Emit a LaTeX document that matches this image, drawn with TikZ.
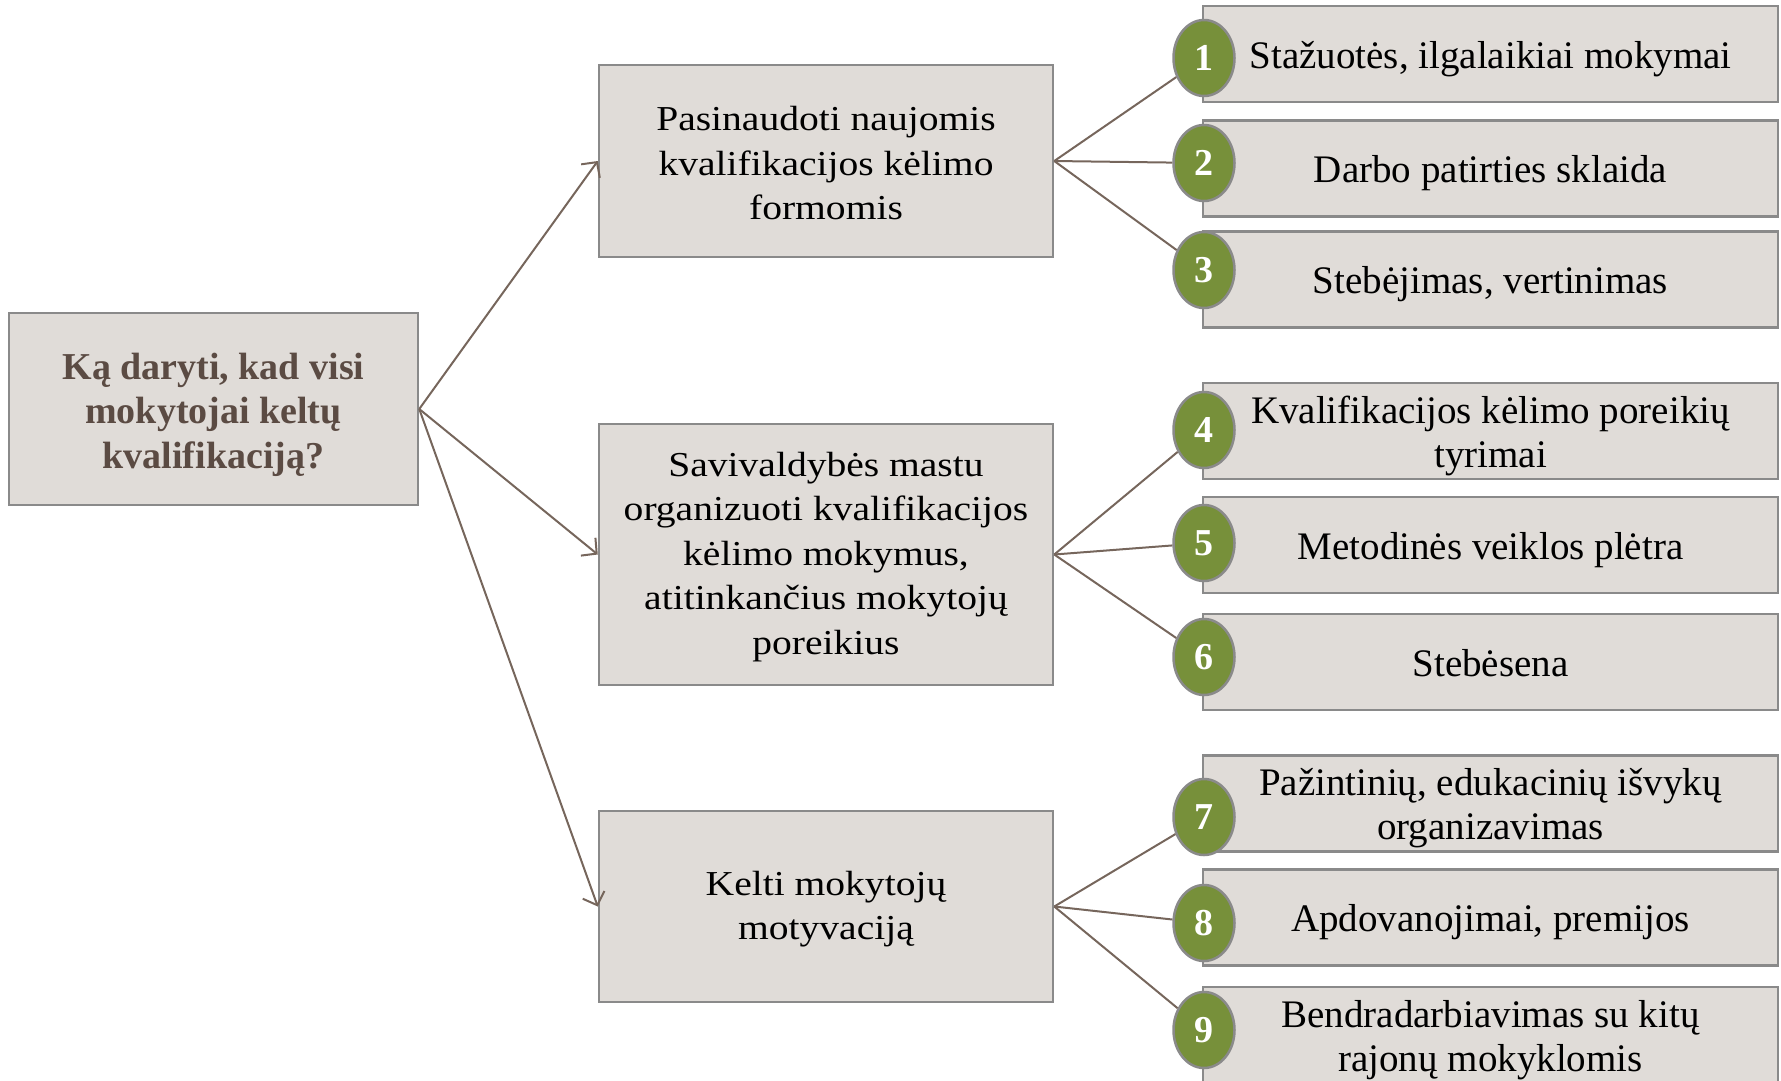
\documentclass[tikz,border=0pt]{standalone}
\usepackage{fontspec}
\setmainfont{Liberation Serif}
\newfontfamily\widefont[FakeStretch=1.13]{Liberation Serif}
\usetikzlibrary{positioning,
	arrows.meta,
	shapes.geometric}
\definecolor{boxfill}{HTML}{E0DCD8}
\definecolor{boxline}{HTML}{8A8A8A}
\definecolor{linkcol}{HTML}{76665C}
\definecolor{olive}{HTML}{77903A}
\definecolor{roottext}{HTML}{5B4B43}
% fixed word spaces, plus a strut to set the first line
\newcommand{\fixspace}{\spaceskip=\fontdimen2\font\xspaceskip=\fontdimen2\font}
\tikzstyle{root}=[draw=boxline, fill=boxfill, line width=2.5pt, minimum width=409pt,
		minimum height=192pt, text width=400pt, align=center, text=roottext, inner sep=0,
		font=\fontsize{38}{44.5}\selectfont\bfseries,
		execute at begin node={\fixspace\rule{0pt}{1.0em}}]
\tikzstyle{branch}=[draw=boxline, fill=boxfill, line width=2.5pt, minimum width=454pt,
		text width=440pt, align=center, inner sep=0, font=\widefont\fontsize{35}{44.5}\selectfont,
		execute at begin node={\fixspace\rule{0pt}{0.83em}}]
\tikzstyle{leaf}=[draw=boxline, fill=boxfill, line width=2.5pt, minimum width=575pt,
		minimum height=96pt, text width=560pt, align=center, inner sep=0,
		font=\fontsize{39}{44}\selectfont,
		execute at begin node={\fixspace\rule[-0.217em]{0pt}{1.167em}}]
\tikzstyle{num}=[ellipse, draw=boxline, fill=olive, line width=2.5pt, minimum width=61pt,
		minimum height=76pt, inner sep=0, text=white, font=\fontsize{38}{38}\selectfont\bfseries]
\tikzstyle{link}=[draw=linkcol, line width=2pt]
\tikzstyle{arr}=[link, -{Straight Barb[length=11pt,width=23pt,line width=2pt]}]

\begin{document}
\begin{tikzpicture}[x=1pt, y=-1pt]
	\useasboundingbox (0,0) rectangle (1781,1080);
	% question
	\node[root] (q) at (213.5,409) {Ką daryti, kad visi\\mokytojai keltų\\kvalifikaciją?};
	% three ways
	\node[branch, minimum height=192pt] (b1) at (826,161) {Pasinaudoti naujomis\\kvalifikacijos kėlimo\\formomis};
	\node[branch, minimum height=261pt] (b2) at (826,554.5) {Savivaldybės mastu\\organizuoti kvalifikacijos\\kėlimo mokymus,\\atitinkančius mokytojų\\poreikius};
	\node[branch, minimum height=191pt] (b3) at (826,906.5) {Kelti mokytojų\\motyvaciją};
	% actions
	\node[leaf] (l1) at (1490.5,54) {Stažuotės, ilgalaikiai mokymai};
	\node[leaf] (l2) at (1490.5,168.5) {Darbo patirties sklaida};
	\node[leaf] (l3) at (1490.5,279.5) {Stebėjimas, vertinimas};
	\node[leaf] (l4) at (1490.5,431) {Kvalifikacijos kėlimo poreikių\\tyrimai};
	\node[leaf] (l5) at (1490.5,545) {Metodinės veiklos plėtra};
	\node[leaf] (l6) at (1490.5,662) {Stebėsena};
	\node[leaf] (l7) at (1490.5,803.5) {Pažintinių, edukacinių išvykų\\organizavimas};
	\node[leaf] (l8) at (1490.5,917.5) {Apdovanojimai, premijos};
	\node[leaf] (l9) at (1490.5,1035) {Bendradarbiavimas su kitų\\rajonų mokyklomis};
	% numbers
	\node[num] (n1) at (1204,58) {1};
	\node[num] (n2) at (1204,163) {2};
	\node[num] (n3) at (1204,270) {3};
	\node[num] (n4) at (1204,430) {4};
	\node[num] (n5) at (1204,543) {5};
	\node[num] (n6) at (1204,657) {6};
	\node[num] (n7) at (1204,817) {7};
	\node[num] (n8) at (1204,923) {8};
	\node[num] (n9) at (1204,1030) {9};
	% connectors
	\foreach \b in {1,2,3}
		\draw[arr] (q.east) -- (b\b.west);
	\foreach \b/\n in {1/1,1/2,1/3,2/4,2/5,2/6,3/7,3/8,3/9}
		\draw[link] (b\b.east) -- (n\n);
\end{tikzpicture}
\end{document}
